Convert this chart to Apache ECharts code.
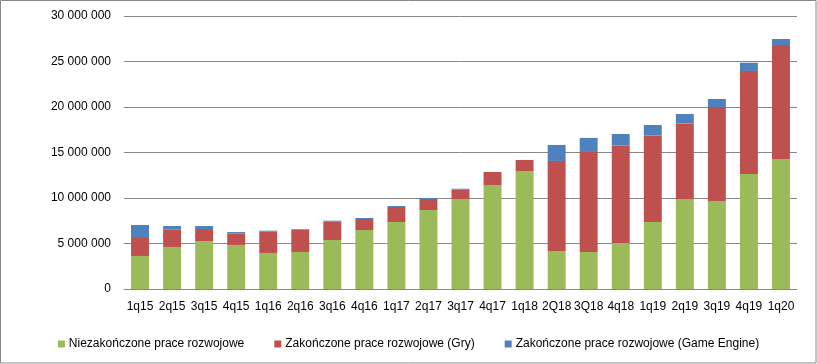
<!DOCTYPE html>
<html><head><meta charset="utf-8">
<script src="https://cdn.jsdelivr.net/npm/echarts@6/dist/echarts.min.js"></script>
<style>html,body{margin:0;padding:0;background:#fff}#c{width:817px;height:364px}</style>
</head><body><div id="c"></div>
<script>
const categories = ['1q15','2q15','3q15','4q15','1q16','2q16','3q16','4q16','1q17','2q17','3q17','4q17','1q18','2Q18','3Q18','4q18','1q19','2q19','3q19','4q19','1q20'];
const seriesNames = ['Niezakończone prace rozwojowe','Zakończone prace rozwojowe (Gry)','Zakończone prace rozwojowe (Game Engine)'];
const niezakonczone = [3630000,4620000,5270000,4840000,3960000,4070000,5380000,6480000,7360000,8680000,9890000,11430000,12970000,4180000,4070000,5050000,7360000,9890000,9670000,12640000,14290000];
const gry = [2080000,1900000,1320000,1240000,2340000,2450000,2020000,1210000,1650000,1210000,1020000,1430000,1210000,9890000,10990000,10700000,9490000,8280000,10330000,11320000,12520000];
const gameEngine = [1320000,400000,330000,180000,110000,70000,110000,110000,110000,110000,110000,0,0,1760000,1540000,1280000,1170000,1060000,880000,910000,660000];
const yTicks = {min:0, max:30000000, interval:5000000};

const font = 'Liberation Sans';
const fmt = v => String(v).replace(/\B(?=(\d{3})+(?!\d))/g, ' ');
const chart = echarts.init(document.getElementById('c'), null, {renderer:'canvas'});
chart.setOption({
  animation:false,
  textStyle:{fontFamily:font},
  color:['#9BBB59','#C0504D','#4F81BD'],
  graphic:[{type:'rect',shape:{x:0.5,y:0.5,width:815.5,height:362.5},style:{fill:'none',stroke:'#888',lineWidth:1},silent:true}],
  grid:{left:124,right:20,top:16,bottom:75,containLabel:false},
  legend:{bottom:9,left:'center',itemWidth:7,itemHeight:7,itemGap:30,icon:'rect',
    textStyle:{fontFamily:font,fontSize:12,color:'#000',padding:[0,0,0,-1]},
    data:seriesNames},
  xAxis:{type:'category',data:categories,
    axisLine:{lineStyle:{color:'#888',width:1}},axisTick:{show:false},
    axisLabel:{color:'#000',fontSize:12,fontFamily:font,margin:12,interval:0}},
  yAxis:{type:'value',min:yTicks.min,max:yTicks.max,interval:yTicks.interval,
    axisLine:{show:false},axisTick:{show:false},
    splitLine:{lineStyle:{color:'#888',width:1}},
    axisLabel:{color:'#000',fontSize:12,fontFamily:font,margin:13,formatter:fmt}},
  series:[
    {name:seriesNames[0],type:'bar',stack:'a',data:niezakonczone,barCategoryGap:'44%'},
    {name:seriesNames[1],type:'bar',stack:'a',data:gry},
    {name:seriesNames[2],type:'bar',stack:'a',data:gameEngine}
  ]
});
</script></body></html>
